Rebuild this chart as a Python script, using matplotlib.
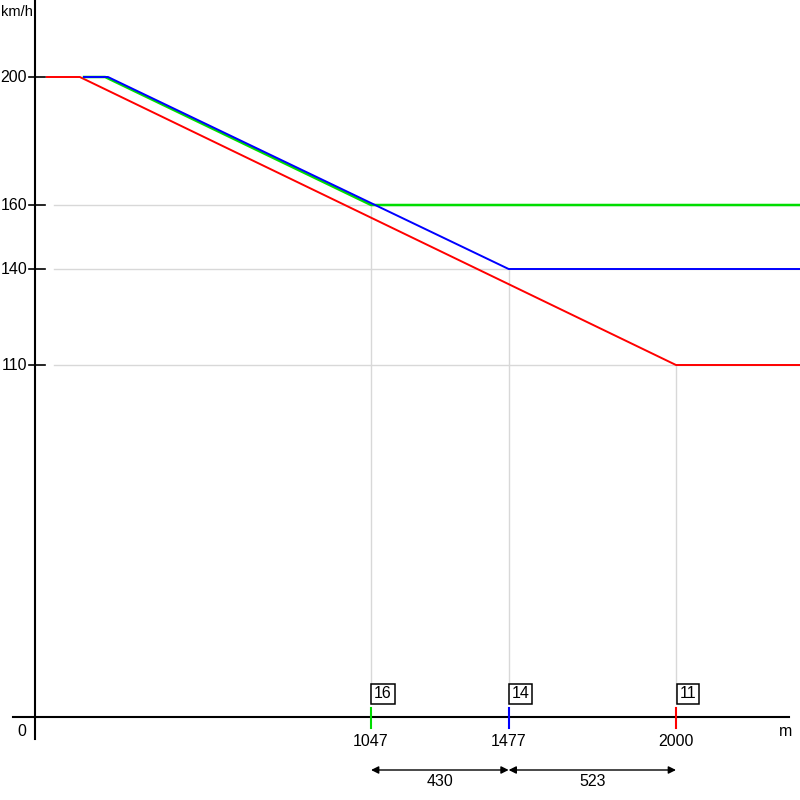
import matplotlib
matplotlib.use('Agg')
import matplotlib.pyplot as plt

plt.rcParams['font.family'] = ['Liberation Sans', 'DejaVu Sans']

# speed profiles (m, km/h)
red_x = [34, 137, 2000, 2387]
red_y = [200, 200, 110, 110]
green_x = [150, 216, 1047, 2387]
green_y = [200, 200, 160, 160]
blue_x = [150, 225, 1477, 2387]
blue_y = [200, 200, 140, 140]

y_ticks = [200, 160, 140, 110]
x_marks = [1047, 1477, 2000]
x_mark_speed = [160, 140, 110]
x_mark_colors = ['#00dd00', '#0000ff', '#ff0000']
box_labels = ['16', '14', '11']
dist_labels = ['430', '523']

# pixel mapping: x_px = 36 + 0.32*m, y_px = 717 - 3.2*v
def mx(px):
  return (px - 36) / 0.32

def vy(py):
  return (717 - py) / 3.2

fs = 11.5
fig = plt.figure(figsize=(8, 8), dpi=100)
ax = fig.add_axes([0, 0, 1, 1])
ax.set_xlim(mx(0), mx(800))
ax.set_ylim(vy(800), vy(0))
ax.axis('off')

grid_c = '#d8d8d8'
# horizontal grid lines
for v in y_ticks[1:]:
  ax.plot([mx(54), mx(800)], [v, v], color=grid_c, lw=1, zorder=1)
# vertical grid lines
for m, v in zip(x_marks, x_mark_speed):
  ax.plot([m, m], [v, vy(703)], color=grid_c, lw=1, zorder=1)

# axes
ax.plot([mx(35), mx(35)], [vy(739), vy(0)], color='black', lw=1.5, zorder=3)
ax.plot([mx(13), mx(789)], [0, 0], color='black', lw=1.5, zorder=3)

for v in y_ticks:
  ax.plot([mx(29), mx(45)], [v, v], color='black', lw=1.2, zorder=3)
  ax.text(mx(27), v, str(v), ha='right', va='center', fontsize=fs)

ax.text(mx(22), vy(731), '0', ha='center', va='center', fontsize=fs)
ax.text(mx(786), vy(731), 'm', ha='center', va='center', fontsize=fs)
ax.text(mx(17), vy(12), 'km/h', ha='center', va='center', fontsize=fs - 1)

# profiles
ax.plot(red_x, red_y, color='#ff0000', lw=1.4, zorder=4)
ax.plot(green_x, green_y, color='#00dd00', lw=1.8, zorder=4)
ax.plot(blue_x, blue_y, color='#0000ff', lw=1.4, zorder=5)

# marks on the x axis
for m, c, lab in zip(x_marks, x_mark_colors, box_labels):
  ax.plot([m, m], [vy(708), vy(728)], color=c, lw=1.5, zorder=4)
  ax.text(m, vy(741), str(m), ha='center', va='center', fontsize=fs)
  ax.text(m + mx(48) - mx(36), vy(694), lab, ha='center', va='center', fontsize=fs,
          bbox=dict(boxstyle='square,pad=0.18', fc='white', ec='black', lw=1.1))

# distance arrows
for i, lab in enumerate(dist_labels):
  x0, x1 = x_marks[i], x_marks[i + 1]
  ax.annotate('', xy=(x1, vy(770)), xytext=(x0, vy(770)),
              arrowprops=dict(arrowstyle='<|-|>', color='black', lw=1,
                              mutation_scale=11, shrinkA=0, shrinkB=0))
  ax.text((x0 + x1) / 2, vy(782), lab, ha='center', va='center', fontsize=fs)

plt.savefig('out.png', dpi=100)
